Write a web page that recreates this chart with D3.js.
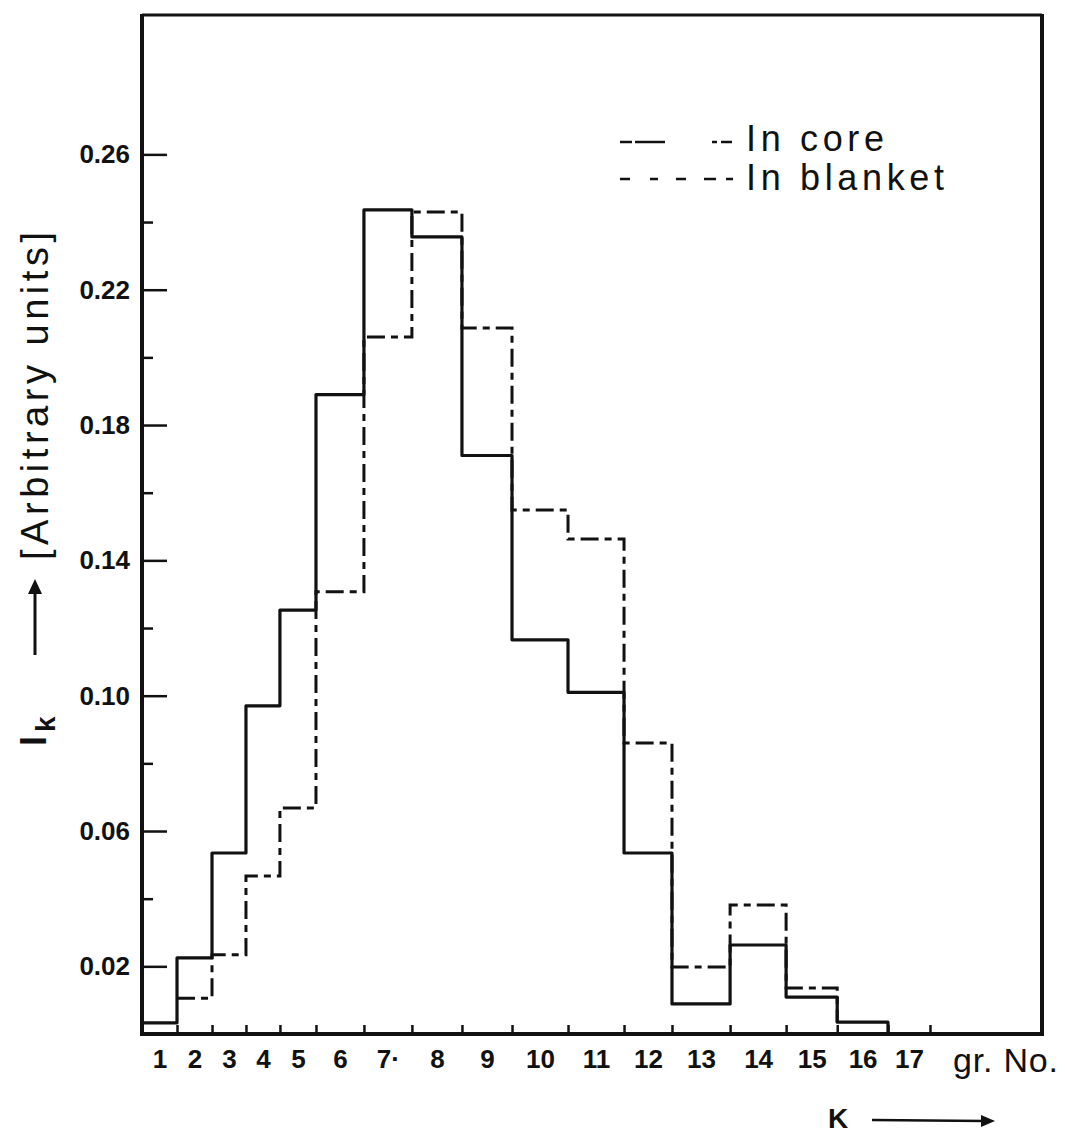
<!DOCTYPE html>
<html>
<head>
<meta charset="utf-8">
<script src="https://cdn.jsdelivr.net/npm/d3@7"></script>
<style>
  body { margin: 0; background: #fff; }
  text { font-family: "Liberation Sans", "DejaVu Sans", sans-serif; fill: #111; }
  .yAxis text { font-size: 26px; font-weight: bold; }
  .xLabels text { font-size: 26px; font-weight: bold; }
</style>
</head>
<body>
<div class="content"></div>
<script>
// group boundaries along the lethargy-like x scale, group 1..17
const groupEdges = [0, 1.00, 2.00, 2.97, 3.94, 4.97, 6.34, 7.71, 9.14, 10.57, 12.17, 13.77, 15.14, 16.80, 18.40, 19.86, 21.31, 22.51];
const groupLabels = ["1", "2", "3", "4", "5", "6", "7·", "8", "9", "10", "11", "12", "13", "14", "15", "16", "17"];
const xMax = 25.71;

// I_k values per group
const coreValues = [0.0033, 0.0225, 0.0535, 0.097, 0.1253, 0.189, 0.2436, 0.2356, 0.171, 0.1165, 0.101, 0.0535, 0.0089, 0.0263, 0.0109, 0.0035, null];
const blanketValues = [null, 0.0106, 0.0234, 0.0467, 0.0668, 0.1307, 0.206, 0.243, 0.2087, 0.1549, 0.1463, 0.086, 0.0198, 0.0381, 0.0136, null, null];

const yMajorTicks = [0.02, 0.06, 0.10, 0.14, 0.18, 0.22, 0.26];
const yMinorTicks = [0.04, 0.08, 0.12, 0.16, 0.20, 0.24];
const yMax = 0.3012;

const legendLabels = ["In core", "In blanket"];

const margin = { top: 15, right: 23, bottom: 103, left: 142 };
const W = 1065, H = 1137;
const width = W - margin.left - margin.right;
const height = H - margin.top - margin.bottom;

const svg = d3.select(".content")
    .append("svg")
    .attr("width", W)
    .attr("height", H);

svg.append("rect").attr("width", W).attr("height", H).attr("fill", "#fff");

const g = svg.append("g")
    .attr("transform", `translate(${margin.left}, ${margin.top})`);

const x = d3.scaleLinear().domain([0, xMax]).range([0, width]);
const y = d3.scaleLinear().domain([0, yMax]).range([height, 0]);

// frame
g.append("line").attr("x1", 0).attr("x2", width).attr("y1", 0).attr("y2", 0)
    .attr("stroke", "#111").attr("stroke-width", 2.8);
g.append("line").attr("x1", 0).attr("x2", 0).attr("y1", -1).attr("y2", height + 2)
    .attr("stroke", "#111").attr("stroke-width", 4);
g.append("line").attr("x1", width).attr("x2", width).attr("y1", -1).attr("y2", height + 2)
    .attr("stroke", "#111").attr("stroke-width", 4);
g.append("line").attr("x1", -2).attr("x2", width + 2).attr("y1", height).attr("y2", height)
    .attr("stroke", "#111").attr("stroke-width", 4);

// y axis, ticks inward
g.append("g")
    .attr("class", "yAxis")
    .call(d3.axisLeft(y).tickValues(yMajorTicks).tickSizeInner(-25).tickSizeOuter(0).tickPadding(12)
        .tickFormat(d3.format(".2f")))
    .call(a => a.select(".domain").remove())
    .call(a => a.selectAll("line").attr("stroke", "#111").attr("stroke-width", 2.5));

g.append("g")
    .attr("class", "yMinor")
    .call(d3.axisLeft(y).tickValues(yMinorTicks).tickSizeInner(-11).tickSizeOuter(0).tickFormat(""))
    .call(a => a.select(".domain").remove())
    .call(a => a.selectAll("line").attr("stroke", "#111").attr("stroke-width", 2.5));

// x axis: small ticks at group boundaries, labels at group centres
g.append("g")
    .attr("class", "xTicks")
    .attr("transform", `translate(0, ${height})`)
    .call(d3.axisBottom(x).tickValues(groupEdges.slice(1)).tickSizeInner(-9).tickSizeOuter(0).tickFormat(""))
    .call(a => a.select(".domain").remove())
    .call(a => a.selectAll("line").attr("stroke", "#111").attr("stroke-width", 2.5));

const centres = groupEdges.map((e, i) => i < groupEdges.length - 1 ? (e + groupEdges[i + 1]) / 2 : e + 0.6);

g.append("g")
    .attr("class", "xLabels")
    .attr("transform", `translate(0, ${height})`)
    .call(d3.axisBottom(x).tickValues(centres).tickSize(0).tickPadding(16)
        .tickFormat((d, i) => groupLabels[i]))
    .call(a => a.select(".domain").remove());

// step path for a series; the dashed one drops back onto the other series at its end
const allEdges = groupEdges.concat([groupEdges[groupEdges.length - 1] + 1.2]);

function stepPath(vals, base) {
    const idx = vals.map((v, i) => v == null ? -1 : i).filter(i => i >= 0);
    const first = idx[0], last = idx[idx.length - 1];
    let p = d3.path();
    if (base == null) {
        p.moveTo(x(allEdges[first]), y(0));
        p.lineTo(x(allEdges[first]), y(vals[first]));
    } else {
        p.moveTo(x(allEdges[first]), y(vals[first]));
    }
    for (let i = first; i <= last; i++) {
        p.lineTo(x(allEdges[i + 1]), y(vals[i]));
        const next = i < last ? vals[i + 1] : (base == null ? 0 : base[i + 1]);
        p.lineTo(x(allEdges[i + 1]), y(next));
    }
    return p.toString();
}

g.append("path")
    .attr("class", "core")
    .attr("d", stepPath(coreValues, null))
    .attr("fill", "none")
    .attr("stroke", "#111")
    .attr("stroke-width", 3.2)
    .attr("stroke-linejoin", "round");

g.append("path")
    .attr("class", "blanket")
    .attr("d", stepPath(blanketValues, coreValues))
    .attr("fill", "none")
    .attr("stroke", "#111")
    .attr("stroke-width", 3)
    .attr("stroke-dasharray", "18,6,7,6");

// legend
const legend = svg.append("g").attr("class", "legend");
const legendDash = ["12,3,30,47,5,4,11", "10,20,8,18,10,18,12"];
legendLabels.forEach((lab, i) => {
    const ly = 142 + i * 37;
    legend.append("line")
        .attr("x1", 620).attr("x2", 733).attr("y1", ly).attr("y2", ly)
        .attr("stroke", "#111").attr("stroke-width", 2.5)
        .attr("stroke-dasharray", legendDash[i]);
    legend.append("text")
        .attr("x", 746).attr("y", 151 + i * 39)
        .attr("font-size", 36)
        .attr("textLength", i === 0 ? 138 : 198)
        .attr("lengthAdjust", "spacing")
        .text(lab);
});

// axis titles
svg.append("text")
    .attr("x", 953).attr("y", 1072)
    .attr("font-size", 34)
    .attr("textLength", 105)
    .attr("lengthAdjust", "spacing")
    .text("gr. No.");

svg.append("text")
    .attr("x", 828).attr("y", 1128)
    .attr("font-size", 28)
    .attr("font-weight", "bold")
    .text("K");

const arrowK = svg.append("g");
arrowK.append("line").attr("x1", 872).attr("x2", 985).attr("y1", 1120).attr("y2", 1121)
    .attr("stroke", "#111").attr("stroke-width", 2.5);
arrowK.append("path").attr("d", "M981,1115 L995,1121 L981,1127 Z").attr("fill", "#111");

const yTitle = svg.append("g").attr("transform", "translate(46, 0) rotate(-90)");
const ik = yTitle.append("text")
    .attr("x", -746).attr("y", 0)
    .attr("font-size", 36)
    .attr("font-weight", "bold");
ik.append("tspan").text("I");
ik.append("tspan").attr("dy", 9).attr("dx", 4).attr("font-size", 28).text("k");

yTitle.append("line").attr("x1", -655).attr("x2", -590).attr("y1", -11).attr("y2", -11)
    .attr("stroke", "#111").attr("stroke-width", 3);
yTitle.append("path").attr("d", "M-594,-18 L-579,-11 L-594,-4 Z").attr("fill", "#111");

yTitle.append("text")
    .attr("x", -560).attr("y", 2)
    .attr("font-size", 38)
    .attr("textLength", 328)
    .attr("lengthAdjust", "spacing")
    .text("[Arbitrary units]");
</script>
</body>
</html>
